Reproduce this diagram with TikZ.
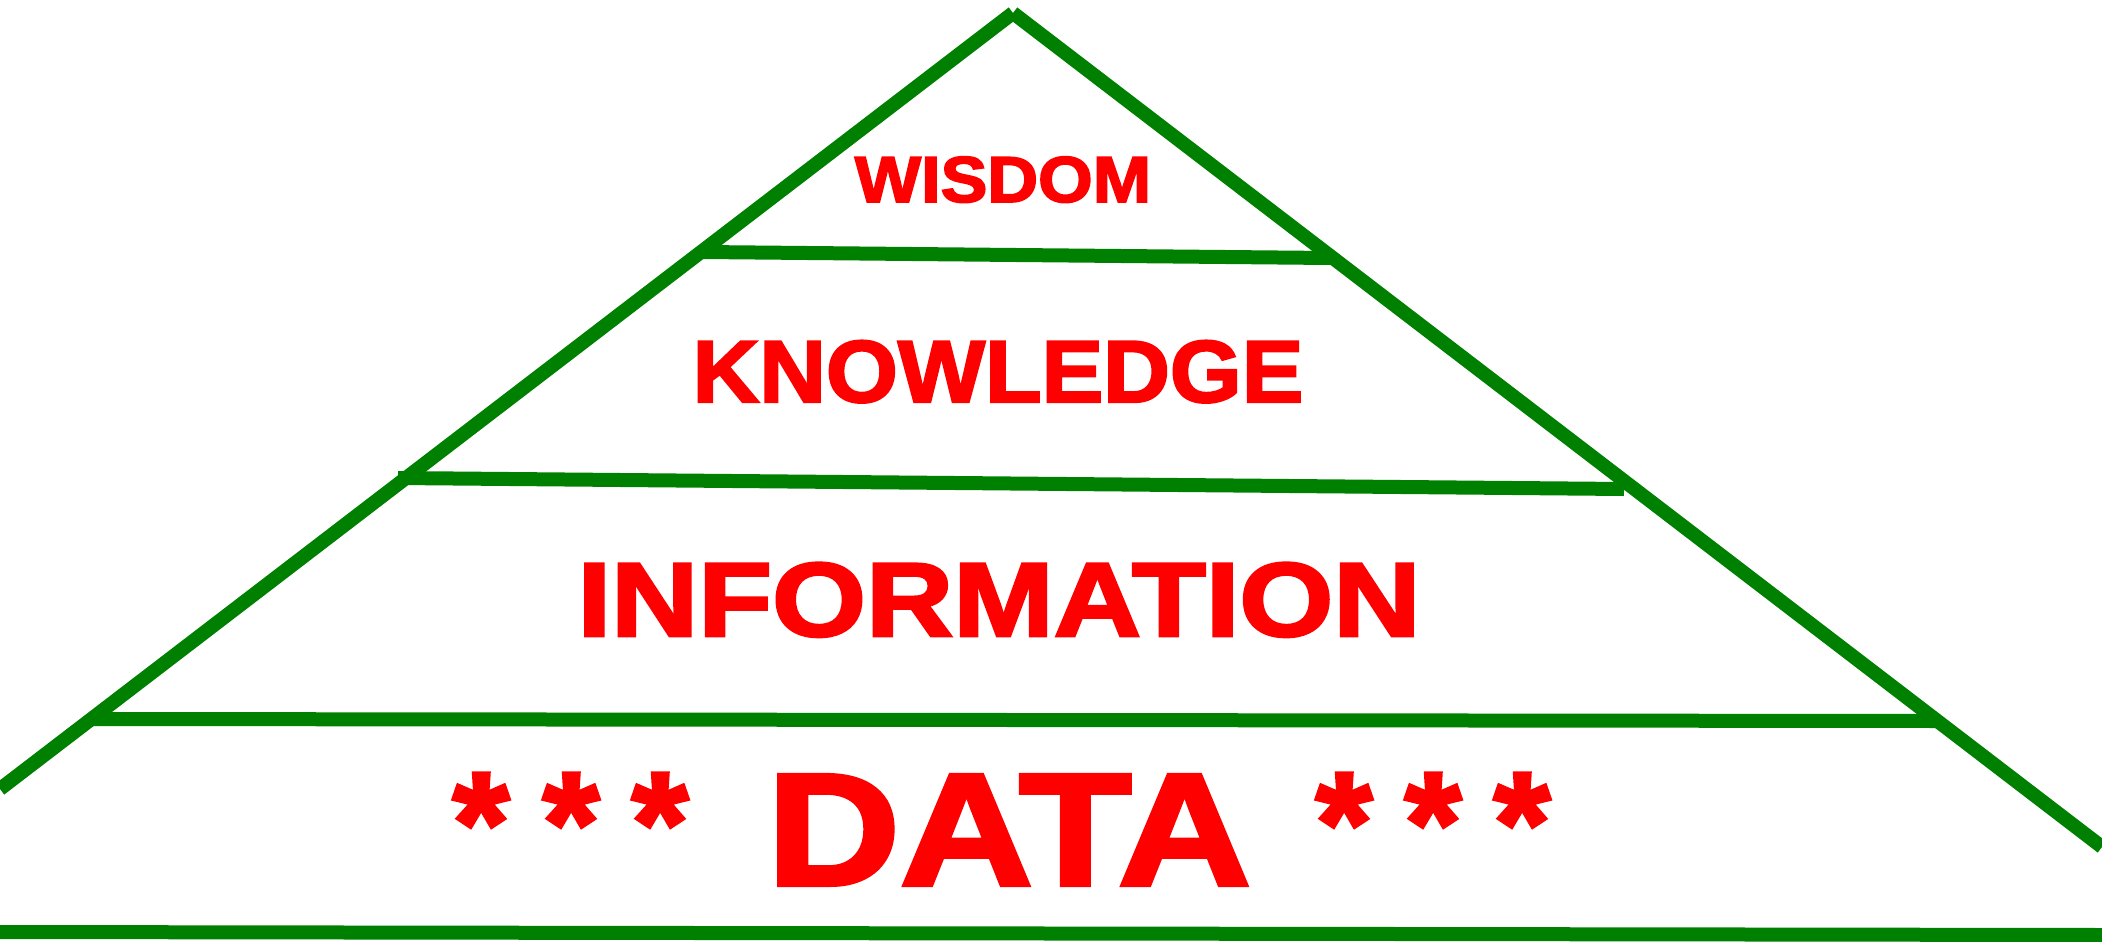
\documentclass[tikz,border=0pt]{standalone}
\usepackage{fontspec}
\setmainfont{Liberation Sans}
\newfontfamily\heavyfont[BoldFeatures={FakeBold=2.5}]{Liberation Sans}
\definecolor{pyramidGreen}{RGB}{0,128,0}
\definecolor{labelRed}{RGB}{255,0,0}
\tikzstyle{edge} = [draw=pyramidGreen, line width=14pt, line cap=butt]
\tikzstyle{levelLabel} = [text=labelRed, inner sep=0pt, anchor=base]
\tikzstyle{starMark} = [text=labelRed, inner sep=0pt, anchor=north, font=\heavyfont\bfseries\fontsize{145}{145}\selectfont]

\begin{document}
\begin{tikzpicture}[x=1pt,y=-1pt]

\clip (0,0) rectangle (2102,942);
% pyramid sides
\coordinate (apex) at (1013,13);
\coordinate (leftFoot) at (0,789);
\coordinate (rightFoot) at (2102,847);
\draw [edge] (leftFoot) -- (apex);
\draw [edge] (apex) -- (rightFoot);
% level separators
\coordinate (wisdomLeft) at (703,252);
\coordinate (wisdomRight) at (1330,258);
\coordinate (knowledgeLeft) at (398,478);
\coordinate (knowledgeRight) at (1624,489);
\coordinate (infoLeft) at (92,719);
\coordinate (infoRight) at (1936,721);
\coordinate (dataLeft) at (0,932);
\coordinate (dataRight) at (2102,935);
\draw [edge] (wisdomLeft) -- (wisdomRight);
\draw [edge] (knowledgeLeft) -- (knowledgeRight);
\draw [edge] (infoLeft) -- (infoRight);
\draw [edge] (dataLeft) -- (dataRight);
% level labels
\node (wisdom) [levelLabel, font=\heavyfont\bfseries\fontsize{65}{65}\selectfont] at (1003,202) {\scalebox{1.08}[1]{WISDOM}};
\node (knowledge) [levelLabel, font=\heavyfont\bfseries\fontsize{88}{88}\selectfont] at (998,402) {\scalebox{1.05}[1]{KNOWLEDGE}};
\node (information) [levelLabel, font=\heavyfont\bfseries\fontsize{105}{105}\selectfont] at (999,636) {\scalebox{1.15}[1]{INFORMATION}};
\node (data) [levelLabel, font=\heavyfont\bfseries\fontsize{160}{160}\selectfont] at (1009,885) {\scalebox{1.15}[1]{DATA}};
\foreach \x [count=\i] in {481,571,660,1344,1433,1522}
  \node (star\i) [starMark] at (\x,773) {*};
\end{tikzpicture}
\end{document}
